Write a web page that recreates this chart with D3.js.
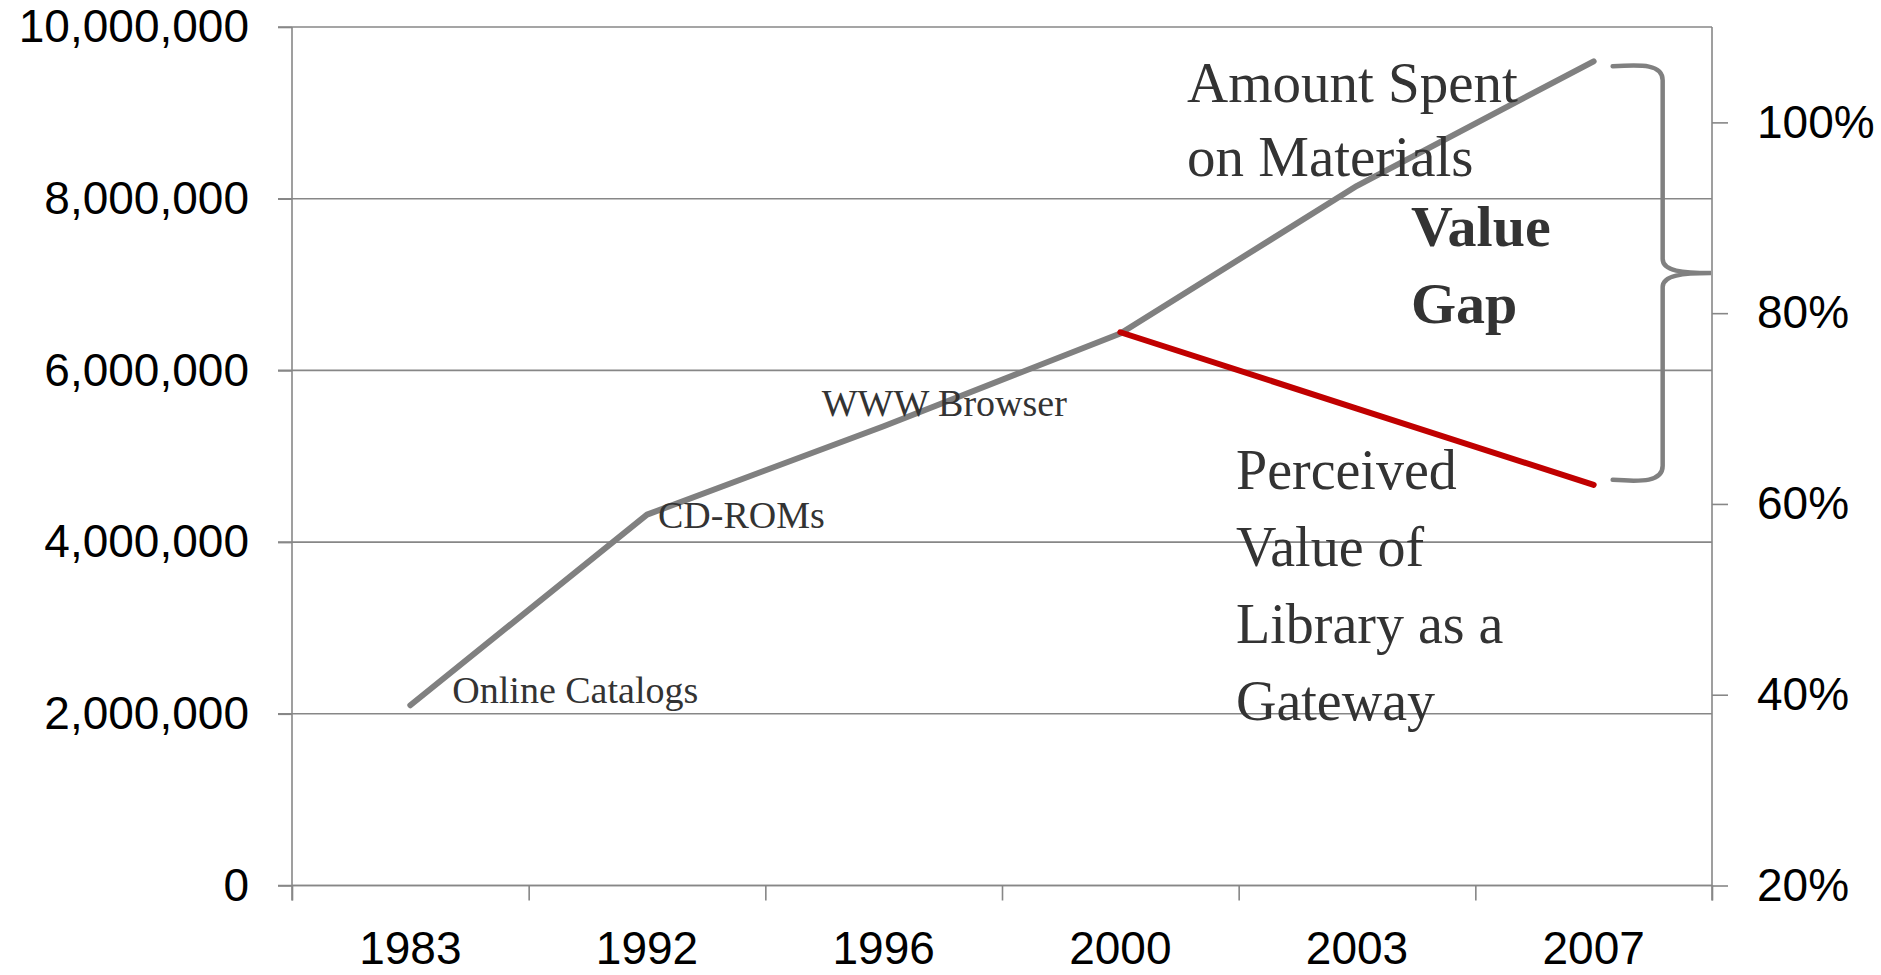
<!DOCTYPE html>
<html>
<head>
<meta charset="utf-8">
<script src="https://cdn.jsdelivr.net/npm/d3@7"></script>
<style>
  html, body { margin: 0; padding: 0; background: #fff; }
  svg { display: block; }
</style>
</head>
<body>
<svg id="chart" width="1881" height="975"></svg>
<script>
// ---------- data ----------
const categories = ["1983", "1992", "1996", "2000", "2003", "2007"];
const amountSpent = [2100000, 4320000, 5350000, 6430000, 8150000, 9600000];
const perceivedCategories = ["2000", "2003", "2007"];
const perceivedValue = [0.78, 0.70, 0.62];
const leftTicks = [0, 2000000, 4000000, 6000000, 8000000, 10000000];
const rightTicks = [0.2, 0.4, 0.6, 0.8, 1.0];
const milestones = ["Online Catalogs", "CD-ROMs", "WWW Browser"];
const milestoneCategories = ["1983", "1992", "1996"];
const amountLabel = ["Amount Spent", "on Materials"];
const gapLabel = ["Value", "Gap"];
const perceivedLabel = ["Perceived", "Value of", "Library as a", "Gateway"];

// ---------- layout ----------
const svg = d3.select("#chart");
const plotLeft = 292, plotRight = 1712, plotTop = 27, plotBottom = 885.5;
const gridColor = "#878787";
const tickFont = "'Liberation Sans', Arial, sans-serif";
const serif = "'Liberation Serif', 'Times New Roman', serif";

const x = d3.scaleBand().domain(categories).range([plotLeft, plotRight]).padding(0);
const xEdges = d3.scaleLinear().domain([0, categories.length]).range([plotLeft, plotRight]);
const yL = d3.scaleLinear().domain([0, 10000000]).range([plotBottom, plotTop]);
const yR = d3.scaleLinear().domain([0.2, 1.1]).range([plotBottom, plotTop]);
const cx = c => x(c) + x.bandwidth() / 2;

// gridlines
svg.append("g").selectAll("line").data(leftTicks).join("line")
  .attr("x1", plotLeft - 14).attr("x2", plotRight)
  .attr("y1", d => yL(d)).attr("y2", d => yL(d))
  .attr("stroke", gridColor).attr("stroke-width", 1.6);

// left axis
const gL = svg.append("g").attr("transform", `translate(${plotLeft},0)`)
  .call(d3.axisLeft(yL).tickValues(leftTicks).tickFormat(d3.format(","))
        .tickSize(14).tickPadding(29));
gL.select(".domain").attr("stroke", gridColor).attr("stroke-width", 1.6)
  .attr("d", `M0,${plotTop}V${plotBottom + 15}`);
gL.selectAll(".tick line").attr("stroke", gridColor).attr("stroke-width", 1.6);
gL.selectAll(".tick text").attr("font-family", tickFont).attr("font-size", 46).attr("fill", "#000");

// right axis
const gR = svg.append("g").attr("transform", `translate(${plotRight},0)`)
  .call(d3.axisRight(yR).tickValues(rightTicks).tickFormat(d3.format(".0%"))
        .tickSize(16).tickPadding(29));
gR.select(".domain").attr("stroke", gridColor).attr("stroke-width", 1.6)
  .attr("d", `M0,${plotTop}V${plotBottom + 15}`);
gR.selectAll(".tick line").attr("stroke", gridColor).attr("stroke-width", 1.6);
gR.selectAll(".tick text").attr("font-family", tickFont).attr("font-size", 46).attr("fill", "#000");

// bottom axis: ticks at category boundaries
const gB = svg.append("g").attr("transform", `translate(0,${plotBottom})`)
  .call(d3.axisBottom(xEdges).ticks(categories.length).tickFormat("").tickSize(15));
gB.select(".domain").attr("stroke", gridColor).attr("stroke-width", 1.6)
  .attr("d", `M${plotLeft},0H${plotRight}`);
gB.selectAll(".tick line").attr("stroke", gridColor).attr("stroke-width", 1.6);

// bottom labels at category centres
const gBL = svg.append("g").attr("transform", `translate(0,${plotBottom})`)
  .call(d3.axisBottom(x).tickSize(0).tickPadding(46));
gBL.select(".domain").remove();
gBL.selectAll(".tick text").attr("font-family", tickFont).attr("font-size", 46).attr("fill", "#000");

// ---------- series ----------
const grayLine = d3.line().x((d, i) => cx(categories[i])).y(d => yL(d));
svg.append("path").datum(amountSpent)
  .attr("d", grayLine)
  .attr("fill", "none").attr("stroke", "#808080").attr("stroke-width", 6)
  .attr("stroke-linecap", "round").attr("stroke-linejoin", "round");

const redLine = d3.line().x((d, i) => cx(perceivedCategories[i])).y(d => yR(d));
svg.append("path").datum(perceivedValue)
  .attr("d", redLine)
  .attr("fill", "none").attr("stroke", "#c00000").attr("stroke-width", 6)
  .attr("stroke-linecap", "round").attr("stroke-linejoin", "round");

// ---------- brace (between the 2007 values) ----------
const bx0 = cx("2007") + 19;
const bxv = bx0 + 50;
const bxt = plotRight - 1;
const byTop = yL(amountSpent[amountSpent.length - 1]) + 5;
const byBot = yR(perceivedValue[perceivedValue.length - 1]) - 5;
const byMid = (byTop + byBot) / 2;
const br = 14;
const bracePath = `M${bx0},${byTop}` +
  `C${bx0 + 30},${byTop - 2} ${bxv},${byTop - 2} ${bxv},${byTop + br}` +
  `V${byMid - br}` +
  `C${bxv},${byMid - 2} ${bxv + 20},${byMid} ${bxt},${byMid}` +
  `C${bxv + 20},${byMid} ${bxv},${byMid + 2} ${bxv},${byMid + br}` +
  `V${byBot - br}` +
  `C${bxv},${byBot + 2} ${bx0 + 30},${byBot + 2} ${bx0},${byBot}`;
svg.append("path").attr("d", bracePath)
  .attr("fill", "none").attr("stroke", "#808080").attr("stroke-width", 4.5)
  .attr("stroke-linecap", "round");

// ---------- annotations ----------
const milestoneOffsets = [[42, -2], [11, 13], [-62, -10]];
svg.append("g").selectAll("text").data(milestones).join("text")
  .attr("x", (d, i) => cx(milestoneCategories[i]) + milestoneOffsets[i][0])
  .attr("y", (d, i) => yL(amountSpent[categories.indexOf(milestoneCategories[i])]) + milestoneOffsets[i][1])
  .attr("font-family", serif).attr("font-size", 38).attr("fill", "#333")
  .text(d => d);

svg.append("g").selectAll("text").data(amountLabel).join("text")
  .attr("x", 1187).attr("y", (d, i) => 102 + i * 74)
  .attr("font-family", serif).attr("font-size", 57).attr("fill", "#333")
  .text(d => d);

svg.append("g").selectAll("text").data(gapLabel).join("text")
  .attr("x", 1411).attr("y", (d, i) => 246 + i * 77)
  .attr("font-family", serif).attr("font-size", 58).attr("font-weight", "bold").attr("fill", "#333")
  .text(d => d);

svg.append("g").selectAll("text").data(perceivedLabel).join("text")
  .attr("x", 1236).attr("y", (d, i) => 489 + i * 77)
  .attr("font-family", serif).attr("font-size", 56).attr("fill", "#333")
  .text(d => d);
</script>
</body>
</html>
